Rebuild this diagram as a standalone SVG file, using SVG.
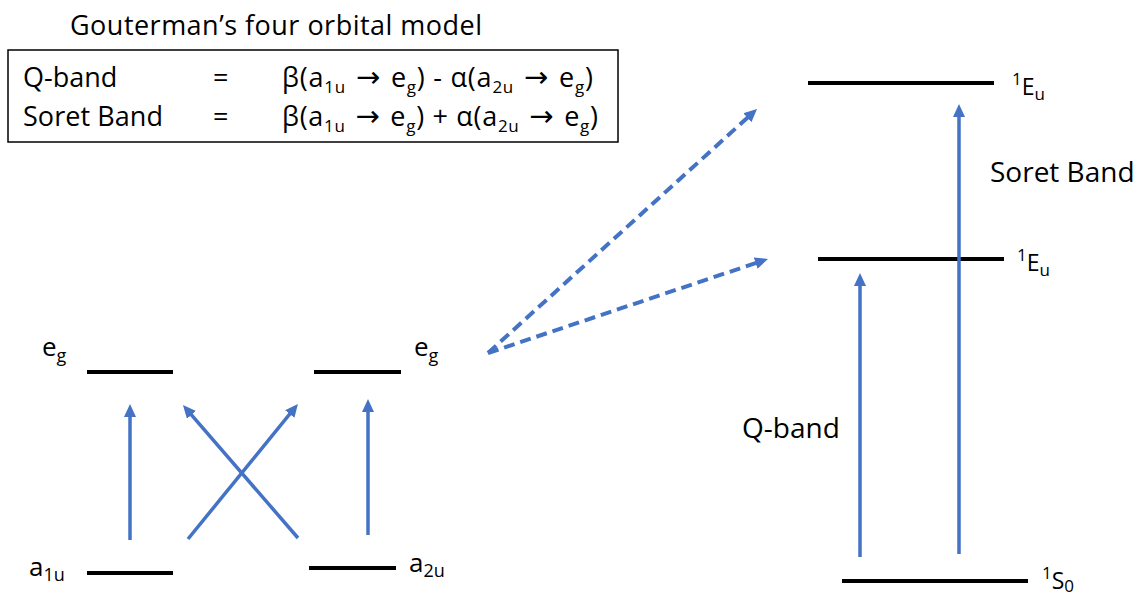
<svg xmlns="http://www.w3.org/2000/svg" width="1135" height="596" viewBox="0 0 1135 596">
<style>
text{font-family:"Open Sans","Liberation Sans",sans-serif;fill:#000;}
.t27{font-size:27px;}
.t28{font-size:28px;}
.t24{font-size:26px;}
.t21{font-size:23px;}
.s17{font-size:17px;}
.s18{font-size:18px;}
.s16{font-size:17px;}
.ar{font-family:"DejaVu Sans",sans-serif;font-size:29px;}
.lvl{stroke:#000;stroke-width:4;fill:none;}
.arr{stroke:#4472C4;stroke-width:3.5;fill:none;}
.dash{stroke:#4472C4;stroke-width:4;fill:none;stroke-dasharray:11 6;}
</style>
<defs>
<marker id="ah" markerUnits="userSpaceOnUse" markerWidth="14" markerHeight="12" refX="5" refY="6" orient="auto">
<path d="M0,0 L13,6 L0,12 z" fill="#4472C4"/>
</marker>
</defs>
<rect width="1135" height="596" fill="#fff"/>

<g id="title">
<text class="t27" x="70" y="35" textLength="412" lengthAdjust="spacing">Gouterman’s four orbital model</text>
</g>

<g id="formula-box">
<rect x="8" y="50" width="610" height="92" fill="none" stroke="#000" stroke-width="1.5"/>
<text class="t27" x="23" y="87">Q-band</text>
<text class="t27" x="213" y="87">=</text>
<text class="t27" x="282" y="87" textLength="311" lengthAdjust="spacing">β(a<tspan class="s17" dy="6">1u</tspan><tspan class="ar" dy="-6"> → </tspan><tspan>e</tspan><tspan class="s17" dy="6">g</tspan><tspan dy="-6">) - α(a</tspan><tspan class="s17" dy="6">2u</tspan><tspan class="ar" dy="-6"> → </tspan><tspan>e</tspan><tspan class="s17" dy="6">g</tspan><tspan dy="-6">)</tspan></text>
<text class="t27" x="23" y="126" textLength="140" lengthAdjust="spacing">Soret Band</text>
<text class="t27" x="213" y="126">=</text>
<text class="t27" x="282" y="126" textLength="316" lengthAdjust="spacing">β(a<tspan class="s17" dy="6">1u</tspan><tspan class="ar" dy="-6"> → </tspan><tspan>e</tspan><tspan class="s17" dy="6">g</tspan><tspan dy="-6">) + α(a</tspan><tspan class="s17" dy="6">2u</tspan><tspan class="ar" dy="-6"> → </tspan><tspan>e</tspan><tspan class="s17" dy="6">g</tspan><tspan dy="-6">)</tspan></text>
</g>

<g id="eg-left">
<line class="lvl" x1="87" y1="372" x2="173" y2="372"/>
<text class="t24" x="42" y="356">e<tspan class="s18" dy="6">g</tspan></text>
</g>
<g id="eg-right">
<line class="lvl" x1="314" y1="372" x2="401" y2="372"/>
<text class="t24" x="414" y="356">e<tspan class="s18" dy="6">g</tspan></text>
</g>
<g id="a1u">
<line class="lvl" x1="87" y1="573" x2="173" y2="573"/>
<text class="t24" x="29" y="576">a<tspan class="s18" dy="5">1u</tspan></text>
</g>
<g id="a2u">
<line class="lvl" x1="309" y1="568" x2="396" y2="568"/>
<text class="t24" x="409" y="572">a<tspan class="s18" dy="5">2u</tspan></text>
</g>

<g id="Eu-upper">
<line class="lvl" x1="808" y1="83" x2="994" y2="83"/>
<text class="t21" x="1012" y="95"><tspan class="s16" dy="-10">1</tspan><tspan dy="10">E</tspan><tspan class="s16" dy="5">u</tspan></text>
</g>
<g id="Eu-lower">
<line class="lvl" x1="818" y1="259" x2="1004" y2="259"/>
<text class="t21" x="1017" y="271"><tspan class="s16" dy="-10">1</tspan><tspan dy="10">E</tspan><tspan class="s16" dy="5">u</tspan></text>
</g>
<g id="S0">
<line class="lvl" x1="842" y1="581" x2="1028" y2="581"/>
<text class="t21" x="1042" y="589"><tspan class="s16" dy="-10">1</tspan><tspan dy="10">S</tspan><tspan class="s16" dy="3">0</tspan></text>
</g>

<g id="labels">
<text class="t28" x="990" y="182">Soret Band</text>
<text class="t28" x="742" y="438">Q-band</text>
</g>

<g id="connectors">
<line class="arr" x1="130" y1="540" x2="130" y2="412" marker-end="url(#ah)"/>
<line class="arr" x1="188" y1="539" x2="292.9" y2="410.2" marker-end="url(#ah)"/>
<line class="arr" x1="298" y1="538" x2="188.2" y2="411.1" marker-end="url(#ah)"/>
<line class="arr" x1="368" y1="535" x2="368" y2="407" marker-end="url(#ah)"/>
<line class="arr" x1="860" y1="557" x2="860" y2="281" marker-end="url(#ah)"/>
<line class="arr" x1="959" y1="554" x2="959" y2="112" marker-end="url(#ah)"/>
<line class="dash" x1="488" y1="353" x2="751.1" y2="114.4" marker-end="url(#ah)"/>
<line class="dash" x1="488" y1="353" x2="760.4" y2="261.5" marker-end="url(#ah)"/>
</g>
</svg>
